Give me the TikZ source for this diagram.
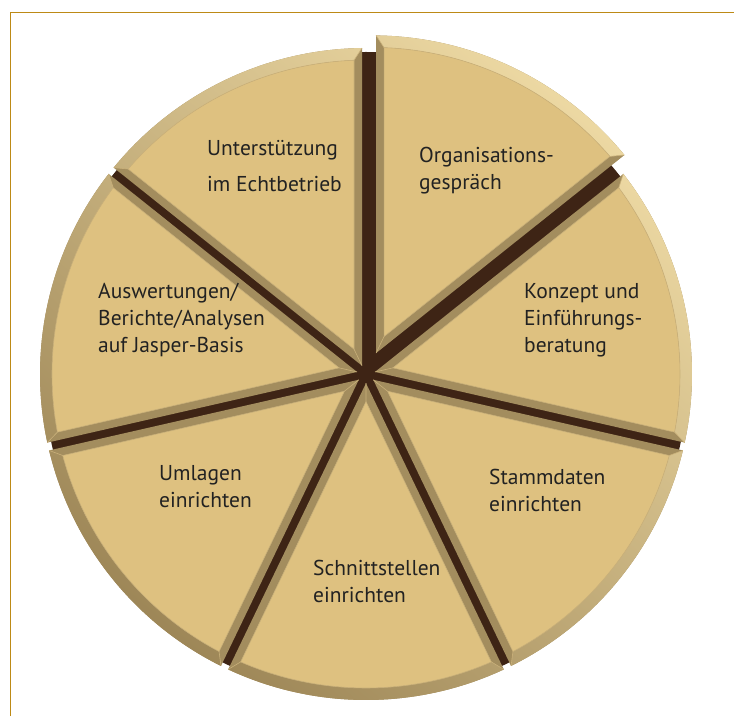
\documentclass[tikz,border=0pt]{standalone}
\usepackage{fontspec}
\setmainfont{PT Sans}
\definecolor{face}{HTML}{DEC180}
\definecolor{bevelc}{HTML}{A38D5E}
\definecolor{rimlight}{HTML}{F0DCA6}
\definecolor{rimdark}{HTML}{9A8354}
\definecolor{darkline}{HTML}{3E2415}
\definecolor{framec}{HTML}{BD8A16}
\definecolor{txt}{HTML}{222222}
\definecolor{seam}{HTML}{C9B07A}
\def\pieR{326}
\def\pieGap{4}
\def\pieBev{8}
\def\pieRim{12}
\newcommand\pieWedge[3]{%
  \pgfmathsetmacro\wS{#1}%
  \pgfmathsetmacro\wE{#2}%
  \pgfmathsetmacro\wM{(#1+#2)/2}%
  \pgfmathsetmacro\wH{(#1-#2)/2}%
  \pgfmathsetmacro\apO{\pieGap/sin(\wH)}%
  \pgfmathsetmacro\apI{(\pieGap+\pieBev)/sin(\wH)}%
  \pgfmathsetmacro\Ri{\pieR-\pieRim}%
  \pgfmathsetmacro\dO{asin(\pieGap/\pieR)}%
  \pgfmathsetmacro\dI{asin((\pieGap+\pieBev)/\Ri)}%
  \pgfmathsetmacro\aSO{\wS-\dO}\pgfmathsetmacro\aEO{\wE+\dO}%
  \pgfmathsetmacro\aSI{\wS-\dI}\pgfmathsetmacro\aEI{\wE+\dI}%
  \begin{scope}[shift={(\wM:#3)}]
    \fill[bevelc] (\wM:\apO) -- (\aSO:\pieR) arc[start angle=\aSO, end angle=\aEO, radius=\pieR] -- cycle;
    \begin{scope}
      \clip (\aSO:\pieR) arc[start angle=\aSO, end angle=\aEO, radius=\pieR] -- (\aEI:\Ri) arc[start angle=\aEI, end angle=\aSI, radius=\Ri] -- cycle;
      \shade[top color=rimlight, bottom color=rimdark, shading angle=-40] (-356,-356) rectangle (356,356);
    \end{scope}
    \fill[face, draw=seam, line width=0.6pt] (\wM:\apI) -- (\aSI:\Ri) arc[start angle=\aSI, end angle=\aEI, radius=\Ri] -- cycle;
    \draw[seam, line width=0.6pt] (\wM:\apO) -- (\wM:\apI) (\aSO:\pieR) -- (\aSI:\Ri) (\aEO:\pieR) -- (\aEI:\Ri);
  \end{scope}}
\tikzset{lbl/.style={font=\fontsize{21.5}{27}\selectfont, text=txt, align=left, inner sep=0pt, anchor=west}}
\begin{document}
\begin{tikzpicture}[x=1pt,y=1pt]
\useasboundingbox (0,0) rectangle (734,716);
\draw[framec, line width=1.3pt] (10.7,0) -- (10.7,703.7) -- (734,703.7);
\begin{scope}[shift={(366,342)}]
  \fill[darkline] (0,0) circle[radius=322];
  \pieWedge{90}{38.5714}{14}
  \pieWedge{38.5714}{-12.8571}{0}
  \pieWedge{-12.8571}{-64.2857}{0}
  \pieWedge{-64.2857}{-115.7143}{0}
  \pieWedge{-115.7143}{-167.1429}{0}
  \pieWedge{-167.1429}{-218.5714}{0}
  \pieWedge{141.4286}{90}{0}
\end{scope}
\node[lbl, font=\fontsize{21.5}{36}\selectfont] (t1) at (207,549.5) {Unterstützung\\im Echtbetrieb};
\node[lbl] (t2) at (419,545.5) {Organisations-\\gespräch};
\node[lbl] (t3) at (524,396) {Konzept und\\Einführungs-\\beratung};
\node[lbl] (t4) at (489,226) {Stammdaten\\einrichten};
\node[lbl] (t5) at (313,134.5) {Schnittstellen\\einrichten};
\node[lbl] (t6) at (159,229.5) {Umlagen\\einrichten};
\node[lbl] (t7) at (98,396) {Auswertungen/\\Berichte/Analysen\\auf Jasper-Basis};
\end{tikzpicture}
\end{document}
